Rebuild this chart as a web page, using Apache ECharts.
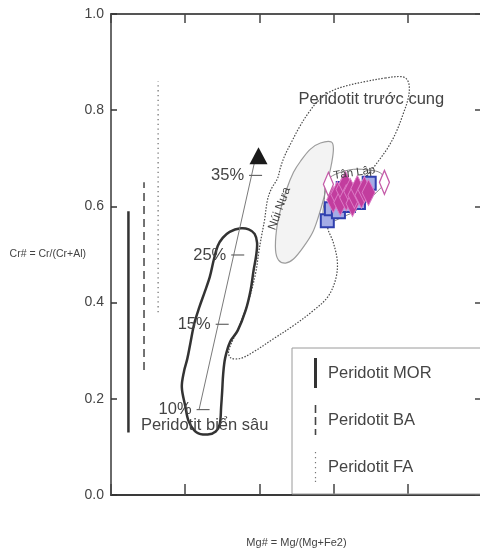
<!DOCTYPE html>
<html>
<head>
<meta charset="utf-8">
<title>Cr# – Mg# spinel</title>
<script src="https://cdn.jsdelivr.net/npm/echarts/dist/echarts.min.js"></script>
<style>
  html, body { margin: 0; padding: 0; background: #fff; }
  #chart { width: 480px; height: 553px; }
</style>
</head>
<body>
<div id="chart"></div>
<script>
// Spinel Cr# vs Mg# discrimination diagram (peridotite fields + Tân Lập spinels)

const yTickLabels = ['0.0', '0.2', '0.4', '0.6', '0.8', '1.0'];

// Cr# ranges of the peridotite types (vertical bars on the left)
const rangeNames = ['Peridotit MOR', 'Peridotit BA', 'Peridotit FA'];
const rangeMg = [0.047, 0.089, 0.127];
const rangeCrLow = [0.13, 0.26, 0.38];
const rangeCrHigh = [0.59, 0.65, 0.86];

// partial-melting trend
const meltLabels = ['10%', '15%', '25%', '35%'];
const meltMg = [0.2374, 0.2889, 0.3308, 0.3789];
const meltCr = [0.1776, 0.3549, 0.4990, 0.6644];
const meltEnd = [0.3892, 0.7000];
const meltHead = [0.3976, 0.7052];

// field outlines, [Mg#, Cr#]
const forearcField = [
  [0.7392,0.8669],[0.7796,0.8700],[0.7957,0.8658],[0.8038,0.8512],[0.8011,0.8249],
  [0.7876,0.7925],[0.7688,0.7547],[0.7473,0.7233],[0.7204,0.6939],[0.6935,0.6667],
  [0.6586,0.6352],[0.6237,0.6080],[0.5941,0.5870],[0.5833,0.5597],[0.5995,0.5241],
  [0.6102,0.4843],[0.6048,0.4465],[0.5833,0.4109],[0.5457,0.3836],[0.4919,0.3522],
  [0.4382,0.3249],[0.3844,0.2977],[0.3495,0.2841],[0.3226,0.2851],[0.3172,0.2998],
  [0.3441,0.3480],[0.3710,0.4046],[0.3898,0.4612],[0.3992,0.5094],[0.4059,0.5388],
  [0.4140,0.5723],[0.4220,0.6143],[0.4328,0.6373],[0.4489,0.6583],[0.4570,0.6813],
  [0.4677,0.7044],[0.4866,0.7338],[0.5081,0.7652],[0.5323,0.7945],[0.5591,0.8197],
  [0.5914,0.8386],[0.6317,0.8501],[0.6855,0.8595]
];
const abyssalField = [
  [0.3199,0.5472],[0.3495,0.5545],[0.3710,0.5524],[0.3871,0.5430],[0.3938,0.5241],
  [0.3911,0.4969],[0.3844,0.4675],[0.3763,0.4256],[0.3629,0.3836],[0.3414,0.3417],
  [0.3212,0.3187],[0.3078,0.2851],[0.3024,0.2516],[0.2997,0.2159],[0.2970,0.1845],
  [0.2930,0.1468],[0.2823,0.1321],[0.2608,0.1258],[0.2312,0.1300],[0.2097,0.1530],
  [0.2003,0.1845],[0.1909,0.2243],[0.1970,0.2579],[0.2056,0.2830],[0.2137,0.3145],
  [0.2245,0.3564],[0.2379,0.3899],[0.2513,0.4193],[0.2661,0.4528],[0.2769,0.4885],
  [0.2876,0.5178],[0.3011,0.5346]
];
const nuiNuaField = [
  [0.5941,0.7338],[0.5995,0.7191],[0.5941,0.6876],[0.5833,0.6499],[0.5726,0.6143],
  [0.5591,0.5786],[0.5430,0.5451],[0.5188,0.5157],[0.4919,0.4906],[0.4704,0.4822],
  [0.4516,0.4885],[0.4435,0.5094],[0.4462,0.5514],[0.4570,0.5933],[0.4731,0.6352],
  [0.4919,0.6709],[0.5108,0.6939],[0.5376,0.7191],[0.5645,0.7317]
];
const tanLapField = [
  [0.5806,0.6520],[0.6048,0.6667],[0.6532,0.6771],[0.6989,0.6751],[0.7258,0.6698],
  [0.7392,0.6541],[0.7312,0.6415],[0.6640,0.5933],[0.6263,0.5786],[0.5914,0.5681],
  [0.5726,0.5765],[0.5753,0.6143]
];

// Tân Lập spinel analyses, [Mg#, Cr#]
const spinelSquares = [
  [0.583,0.570],[0.594,0.595],[0.613,0.589],[0.626,0.637],[0.640,0.602],
  [0.651,0.623],[0.667,0.608],[0.685,0.633],[0.696,0.648]
];
const spinelDiamonds = [
  [0.599,0.614],[0.610,0.625],[0.618,0.608],[0.624,0.635],[0.632,0.646],
  [0.634,0.618],[0.645,0.631],[0.651,0.606],[0.656,0.623],[0.664,0.637],
  [0.675,0.623],[0.683,0.635],[0.694,0.629]
];
const spinelOpenDiamonds = [[0.586,0.646],[0.737,0.650]];

// field names
const fieldLabelText = ['Peridotit trước cung', 'Peridotit biển sâu', 'Núi Nưa', 'Tân Lập'];
const fieldLabelMg = [0.5054, 0.0806, 0.4543, 0.6559];
const fieldLabelCr = [0.8218, 0.1447, 0.5954, 0.6698];

// ---- styling ----
const SANS = "'Liberation Sans', Arial, sans-serif";
const TEXT = '#444';
const fieldLabelStyle = [
  { size: 16.5, align: 'left', rot: 0 },
  { size: 16.5, align: 'left', rot: 0 },
  { size: 12, align: 'center', rot: 70 },
  { size: 11.5, align: 'center', rot: 8 }
];
const rangeStyles = [
  { color: '#333', width: 2.5, type: 'solid' },
  { color: '#444', width: 1.5, type: [8, 5] },
  { color: '#777', width: 1.3, type: [1.3, 3.5] }
];
const rangeIcons = [
  'path://M0,0h3v30h-3z',
  'path://M0,0h1.6v8h-1.6z M0,12h1.6v8h-1.6z M0,24h1.6v6h-1.6z',
  'path://M0,0h1.2v1.2h-1.2z M0,5h1.2v1.2h-1.2z M0,10h1.2v1.2h-1.2z M0,15h1.2v1.2h-1.2z M0,20h1.2v1.2h-1.2z M0,25h1.2v1.2h-1.2z M0,28.8h1.2v1.2h-1.2z'
];

function fieldSeries(name, pts, style, z) {
  return {
    type: 'custom', name, coordinateSystem: 'cartesian2d', data: pts, z, silent: true,
    renderItem(params, api) {
      if (params.dataIndex !== 0) return null;
      return {
        type: 'polygon',
        shape: { points: pts.map(p => api.coord(p)), smooth: 0.35 },
        style
      };
    }
  };
}

const axisCommon = { type: 'value', min: 0, max: 1, interval: 0.2, splitLine: { show: false } };

const chart = echarts.init(document.getElementById('chart'), null, { renderer: 'canvas' });
chart.setOption({
  animation: false,
  backgroundColor: '#fff',
  textStyle: { fontFamily: SANS },
  grid: { left: 111, right: -2, top: 14, bottom: 58, containLabel: false, outerBoundsMode: 'none' },
  xAxis: [
    Object.assign({}, axisCommon, {
      position: 'bottom',
      name: 'Mg# = Mg/(Mg+Fe2)', nameLocation: 'middle', nameGap: 42, nameMoveOverlap: false,
      nameTextStyle: { fontFamily: SANS, fontSize: 11, color: TEXT },
      axisLine: { show: true, onZero: false, lineStyle: { color: '#3a3a3a', width: 2 } },
      axisTick: { show: true, inside: true, length: 11, lineStyle: { color: '#444', width: 1.5 } },
      axisLabel: { show: false }
    }),
    Object.assign({}, axisCommon, {
      position: 'top',
      axisLine: { show: true, onZero: false, lineStyle: { color: '#555', width: 2 } },
      axisTick: { show: true, inside: true, length: 9, lineStyle: { color: '#444', width: 1.5 } },
      axisLabel: { show: false }
    })
  ],
  yAxis: [
    Object.assign({}, axisCommon, {
      position: 'left',
      name: 'Cr# = Cr/(Cr+Al)', nameLocation: 'middle', nameRotate: 0, nameGap: 25, nameMoveOverlap: false,
      nameTextStyle: { fontFamily: SANS, fontSize: 10.5, color: TEXT },
      axisLine: { show: true, onZero: false, lineStyle: { color: '#6a6a6a', width: 2 } },
      axisTick: { show: true, inside: true, length: 6, lineStyle: { color: '#333', width: 1.5 } },
      axisLabel: { margin: 7, fontFamily: SANS, fontSize: 14, color: TEXT,
                   formatter: (v, i) => yTickLabels[i] }
    }),
    Object.assign({}, axisCommon, {
      position: 'right',
      axisLine: { show: true, onZero: false, lineStyle: { color: '#555', width: 2 } },
      axisTick: { show: true, inside: true, length: 7, lineStyle: { color: '#444', width: 1.5 } },
      axisLabel: { show: false }
    })
  ],
  legend: {
    orient: 'vertical', left: 292, top: 348,
    padding: [10, 90, 12, 22], itemGap: 17, itemWidth: 3, itemHeight: 30,
    borderColor: '#9a9a9a', borderWidth: 1, backgroundColor: 'transparent',
    selectedMode: false, itemStyle: { borderWidth: 0 },
    textStyle: { fontFamily: SANS, fontSize: 16.5, color: TEXT, padding: [0, 0, 0, 6] },
    data: rangeNames.map((name, i) => ({ name, icon: rangeIcons[i] }))
  },
  series: [
    fieldSeries('Peridotit trước cung', forearcField,
      { fill: 'none', stroke: '#4a4a4a', lineWidth: 1.2, lineDash: [1.5, 1.5] }, 1),
    fieldSeries('Núi Nưa', nuiNuaField,
      { fill: '#f3f3f3', stroke: '#9c9c9c', lineWidth: 1.2 }, 2),
    fieldSeries('Peridotit biển sâu', abyssalField,
      { fill: 'none', stroke: '#333', lineWidth: 2.5 }, 3),
    fieldSeries('Tân Lập', tanLapField,
      { fill: 'none', stroke: '#8a8a8a', lineWidth: 1 }, 3),

    ...rangeNames.map((name, i) => ({
      type: 'line', name, z: 3, silent: true,
      data: [[rangeMg[i], rangeCrLow[i]], [rangeMg[i], rangeCrHigh[i]]],
      symbol: 'none', showSymbol: false, color: rangeStyles[i].color,
      lineStyle: { color: rangeStyles[i].color, width: rangeStyles[i].width, type: rangeStyles[i].type }
    })),

    {
      type: 'line', name: 'melting trend', z: 3, silent: true,
      data: [[meltMg[0], meltCr[0]], meltEnd],
      symbol: 'none', showSymbol: false,
      lineStyle: { color: '#7a7a7a', width: 1 }
    },
    {
      type: 'scatter', name: 'melting steps', z: 4, silent: true,
      data: meltMg.map((m, i) => [m, meltCr[i]]),
      symbol: 'rect', symbolSize: [13, 1.2], symbolOffset: [4, 0],
      itemStyle: { color: '#666', opacity: 1 },
      label: { show: true, position: 'left', distance: 5, fontFamily: SANS, fontSize: 16.5, color: TEXT,
               formatter: p => meltLabels[p.dataIndex] }
    },
    {
      type: 'scatter', name: 'melting direction', z: 4, silent: true,
      data: [meltHead], symbol: 'triangle', symbolSize: [18, 17],
      itemStyle: { color: '#1a1a1a', opacity: 1 }
    },

    {
      type: 'scatter', name: 'Tân Lập spinel (1)', z: 5, silent: true,
      data: spinelSquares, symbol: 'rect', symbolSize: 13,
      itemStyle: { color: '#a4ace6', borderColor: '#2f3fae', borderWidth: 2, opacity: 1 }
    },
    {
      type: 'scatter', name: 'Tân Lập spinel (2)', z: 6, silent: true,
      data: spinelDiamonds, symbol: 'diamond', symbolSize: [13, 26],
      itemStyle: { color: '#c23d9e', borderColor: '#dc7cc6', borderWidth: 1, opacity: 1 }
    },
    {
      type: 'scatter', name: 'Tân Lập spinel (3)', z: 6, silent: true,
      data: spinelOpenDiamonds, symbol: 'diamond', symbolSize: [10, 24],
      itemStyle: { color: '#ffffff', borderColor: '#c45aa8', borderWidth: 1.5, opacity: 1 }
    },

    {
      type: 'custom', name: 'field names', coordinateSystem: 'cartesian2d', z: 7, silent: true,
      data: fieldLabelMg.map((m, i) => [m, fieldLabelCr[i]]),
      renderItem(params, api) {
        const i = params.dataIndex;
        const p = api.coord([api.value(0), api.value(1)]);
        const s = fieldLabelStyle[i];
        return {
          type: 'text', x: p[0], y: p[1], rotation: s.rot * Math.PI / 180,
          style: { text: fieldLabelText[i], fontFamily: SANS, fontSize: s.size, fill: TEXT,
                   align: s.align, verticalAlign: 'middle' }
        };
      }
    }
  ]
});
</script>
</body>
</html>
